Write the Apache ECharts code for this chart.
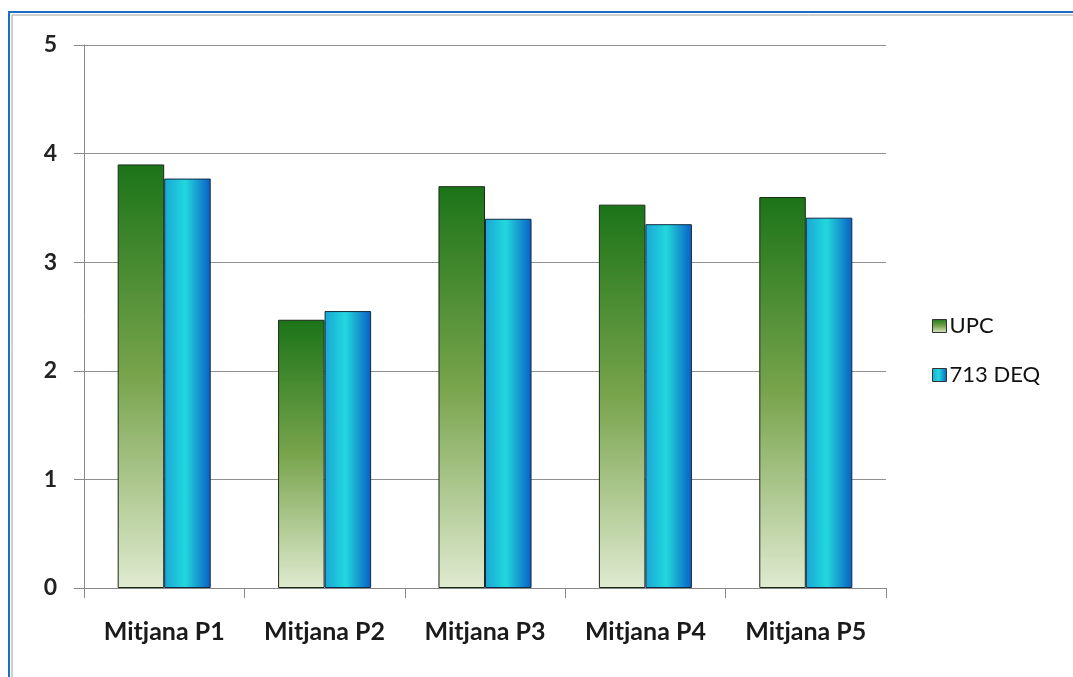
<!DOCTYPE html>
<html><head><meta charset="utf-8">
<script src="https://cdn.jsdelivr.net/npm/echarts@6/dist/echarts.min.js"></script>
<style>html,body{margin:0;padding:0;background:#fff}#c{width:1073px;height:677px}</style>
</head><body><div id="c"></div>
<script>
const categories = ['Mitjana P1','Mitjana P2','Mitjana P3','Mitjana P4','Mitjana P5'];
const upc = [3.90, 2.47, 3.70, 3.53, 3.60];
const deq = [3.77, 2.55, 3.40, 3.35, 3.41];
const seriesNames = ['UPC','713 DEQ'];
const yTicks = [0,1,2,3,4,5];

const chart = echarts.init(document.getElementById('c'));
const font = 'Lato, "Open Sans", sans-serif';
const upcColor = new echarts.graphic.LinearGradient(0,0,0,1,[
  {offset:0,color:'#1c7418'},{offset:0.5,color:'#78a44c'},{offset:1,color:'#e0ead0'}]);
const deqColor = new echarts.graphic.LinearGradient(0,0,1,0,[
  {offset:0,color:'#1aa6d6'},{offset:0.45,color:'#22d8dc'},{offset:1,color:'#0a5ec4'}]);
chart.setOption({
  animation:false,
  backgroundColor:'#fff',
  graphic:[
    {type:'rect',shape:{x:9,y:12,width:1100,height:700},style:{fill:'none',stroke:'#1a6fc4',lineWidth:2},z:-1},
    {type:'rect',shape:{x:12,y:15,width:1100,height:700},style:{fill:'none',stroke:'#a0a0a0',lineWidth:1},z:-1}
  ],
  grid:{left:84,right:187,top:45,bottom:89},
  legend:{
    orient:'vertical',left:927,top:309,itemGap:25,itemWidth:14,itemHeight:13,
    icon:'rect',
    textStyle:{fontFamily:font,fontSize:22,lineHeight:24,color:'#111',padding:[0,0,0,-2]},
    data:seriesNames.map((n,i)=>({name:n,itemStyle:{borderColor:'#333',borderWidth:1}}))
  },
  xAxis:{
    type:'category',data:categories,
    axisLine:{lineStyle:{color:'#888',width:1}},
    axisTick:{show:true,length:10,lineStyle:{color:'#888'}},
    axisLabel:{fontFamily:font,fontSize:25,fontWeight:'bold',color:'#1a1a1a',margin:31}
  },
  yAxis:{
    type:'value',min:0,max:5,interval:1,
    axisLine:{show:true,lineStyle:{color:'#888',width:1}},
    axisTick:{show:true,length:10,lineStyle:{color:'#888'}},
    axisLabel:{fontFamily:font,fontSize:23,fontWeight:'bold',color:'#222',margin:27,
      formatter:v=>yTicks.includes(v)?String(v):''},
    splitLine:{lineStyle:{color:'#909090',width:1}}
  },
  series:[
    {name:seriesNames[0],type:'bar',data:upc,barGap:'0%',barCategoryGap:'42%',
      itemStyle:{color:upcColor,borderColor:'#1a2a18',borderWidth:1}},
    {name:seriesNames[1],type:'bar',data:deq,barGap:'0%',barCategoryGap:'42%',
      itemStyle:{color:deqColor,borderColor:'#102a40',borderWidth:1}}
  ]
});
</script></body></html>
